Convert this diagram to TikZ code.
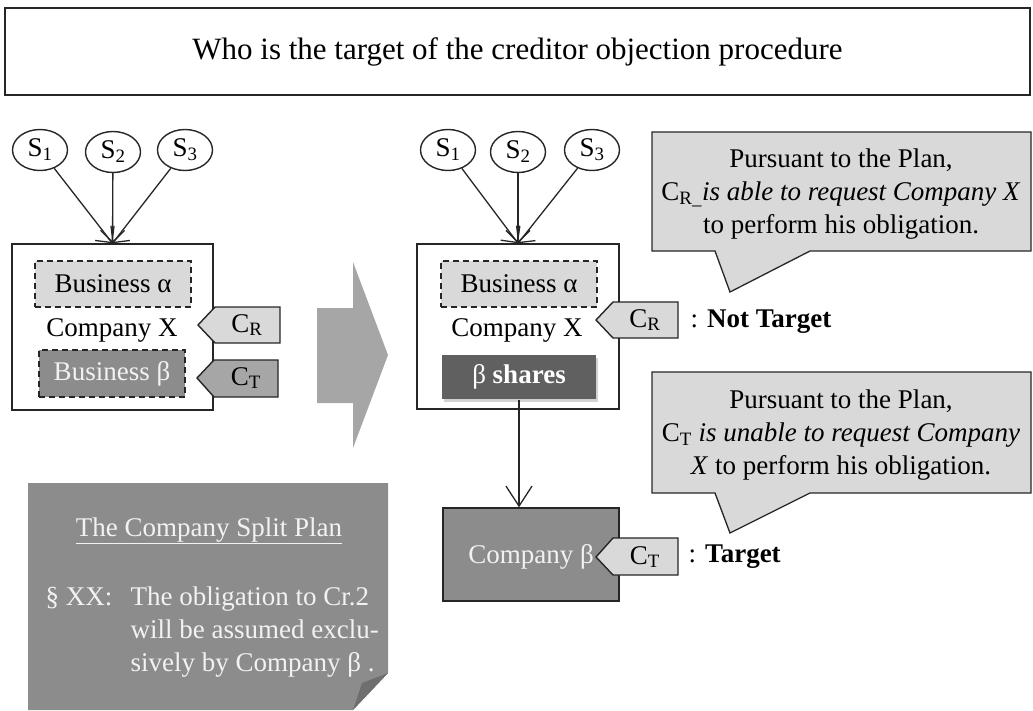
\documentclass[tikz,border=0pt]{standalone}
\usepackage{fontspec}
\setmainfont{Liberation Serif}
\usetikzlibrary{arrows.meta,shapes.geometric,shadows}

\definecolor{lgray}{HTML}{D9D9D9}
\definecolor{mgray}{HTML}{A6A6A6}
\definecolor{dgray}{HTML}{8C8C8C}
\definecolor{vdgray}{HTML}{606060}
\definecolor{fold}{HTML}{6F6F6F}
\definecolor{edge}{HTML}{262626}
\definecolor{ltext}{HTML}{F2F2F2}

\newcommand\fsb{\fontsize{27}{33}\selectfont}
\newcommand\fst{\fontsize{31}{36}\selectfont}

\begin{document}
\begin{tikzpicture}[x=1pt,y=-1pt,line width=1.4pt,
  every node/.style={font=\fsb, text=black},
  sell/.style={ellipse, draw=edge, fill=white, minimum width=55pt, minimum height=41pt, inner sep=0pt},
  frame/.style={draw=edge, fill=white, inner sep=0pt},
  dashbox/.style={draw=edge, dashed, dash pattern=on 6pt off 4pt, inner sep=0pt},
  tagshape/.style={draw=edge, line width=1.4pt},
  conn/.style={draw=edge, line width=1.3pt, -{Straight Barb[length=12pt,width=24pt,line width=1.3pt]}},
  bigconn/.style={draw=edge, line width=1.3pt, -{Straight Barb[length=20pt,width=26pt,line width=1.3pt]}},
  callout/.style={draw=edge, fill=lgray, line width=1.3pt},
  lbl/.style={anchor=west, inner sep=0pt},
]
\useasboundingbox (0,0) rectangle (1033,710);

% title
\node[draw=edge, line width=1.3pt, fill=white, minimum width=1025pt, minimum height=87pt, font=\fst]
  (title) at (517.5,51.5) {Who is the target of the creditor objection procedure};

% ---------------- left ----------------
\node[frame, minimum width=201pt, minimum height=166pt] (boxL) at (112.5,327) {};
\node[dashbox, fill=lgray, minimum width=156pt, minimum height=46pt] (bizAL) at (113,284) {Business α};
\node[inner sep=0pt] (compXL) at (112,330) {Company X};
\node[dashbox, fill=dgray, minimum width=146pt, minimum height=47pt, text=ltext] (bizBL) at (112,373.5) {Business β};

\draw[tagshape, fill=lgray] (198,325) -- (215,307) -- (280,307) -- (280,343) -- (215,343) -- cycle;
\node (cRL) at (247,325) {C\textsubscript{R}};
\draw[tagshape, fill=mgray] (197,378) -- (214,360) -- (278,360) -- (278,397) -- (214,397) -- cycle;
\node (cTL) at (246,378) {C\textsubscript{T}};

\node[sell] (s1L) at (40,150) {S\textsubscript{1}};
\node[sell] (s2L) at (113,152) {S\textsubscript{2}};
\node[sell] (s3L) at (185,150) {S\textsubscript{3}};
\draw[conn] (s1L) -- (boxL.north);
\draw[conn] (s2L) -- (boxL.north);
\draw[conn] (s3L) -- (boxL.north);

% big arrow
\fill[mgray] (317,308) -- (353,308) -- (353,262) -- (388,355) -- (353,448) -- (353,403) -- (317,403) -- cycle;

% ---------------- right ----------------
\node[frame, minimum width=202pt, minimum height=165pt] (boxR) at (518,326.5) {};
\node[dashbox, fill=lgray, minimum width=156pt, minimum height=46pt] (bizAR) at (519,284) {Business α};
\node[inner sep=0pt] (compXR) at (517,330) {Company X};
\node[fill=vdgray, minimum width=154pt, minimum height=44pt, inner sep=0pt, text=white,
  drop shadow={opacity=0.35, shadow xshift=2pt, shadow yshift=-3pt}] (shares) at (519,377) {β \textbf{shares}};

\draw[tagshape, fill=lgray] (596,320) -- (613,302) -- (678,302) -- (678,338) -- (613,338) -- cycle;
\node (cRR) at (645,320) {C\textsubscript{R}};
\node[lbl] (notT) at (690,322) {: \textbf{Not Target}};

\node[sell] (s1R) at (448,150) {S\textsubscript{1}};
\node[sell] (s2R) at (518,152) {S\textsubscript{2}};
\node[sell] (s3R) at (592,150) {S\textsubscript{3}};
\draw[conn] (s1R) -- (boxR.north);
\draw[conn] (s2R) -- (boxR.north);
\draw[conn] (s3R) -- (boxR.north);

\node[draw=edge, fill=dgray, minimum width=176pt, minimum height=93pt, inner sep=0pt] (compB) at (531,554.5) {};
\node[text=ltext, inner sep=0pt] (compBt) at (531,557) {Company β};
\draw[tagshape, fill=lgray] (596,557) -- (613,538) -- (678,538) -- (678,575) -- (613,575) -- cycle;
\node (cTR) at (645,557) {C\textsubscript{T}};
\node[lbl] (tgt) at (688,557) {: \textbf{Target}};

\draw[bigconn] (shares.south) -- (shares.south |- compB.north);

% callouts
\draw[callout] (652,132) -- (1031,132) -- (1031,251) -- (810,251) -- (730,292) -- (715,251) -- (652,251) -- cycle;
\node[align=center] (co1) at (841,194) {Pursuant to the Plan,\\C\textsubscript{R\_}\textit{is able to request Company X}\\to perform his obligation.};

\draw[callout] (652,372) -- (1031,372) -- (1031,493) -- (810,493) -- (730,533) -- (715,493) -- (652,493) -- cycle;
\node[align=center] (co2) at (841,435) {Pursuant to the Plan,\\C\textsubscript{T} \textit{is unable to request Company}\\\textit{X} to perform his obligation.};

% plan note
\fill[dgray] (28,483) -- (388,483) -- (388,673) -- (353,710) -- (28,710) -- cycle;
\fill[fold] (388,673) -- (362,683) -- (353,710) -- cycle;
\node[text=ltext] (planT) at (209,531) {\underline{The Company Split Plan}};
\node[text=ltext, anchor=north west, inner sep=0pt] (sec) at (45,586) {§ XX:};
\node[text=ltext, anchor=north west, inner sep=0pt, align=left] (planB) at (130,586) {The obligation to Cr.2\\will be assumed exclu-\\sively by Company β .};
\end{tikzpicture}
\end{document}
